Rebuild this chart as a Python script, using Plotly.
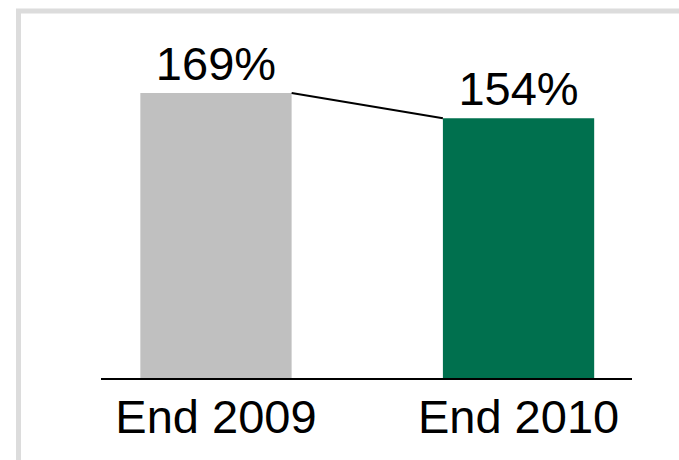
import plotly.graph_objects as go

# Chart data
periods = ["End 2009", "End 2010"]
ratios = [169, 154]
bar_colors = ["#c0c0c0", "#00704e"]

FONT = "Liberation Sans, Arial, sans-serif"

W, H = 679, 460
L, R, T, B = 101, 47, 20, 82
plot_h = H - T - B
px_per_unit = 285 / 169
y_max = plot_h / px_per_unit

fig = go.Figure()

fig.add_trace(go.Bar(
    x=[0, 1],
    y=ratios,
    width=0.5,
    marker=dict(color=bar_colors, line=dict(width=0)),
    text=[f"{v}%" for v in ratios],
    textposition="outside",
    textfont=dict(family=FONT, size=47, color="black"),
    cliponaxis=False,
    hoverinfo="skip",
))

# Connector between the tops of the two bars
fig.add_trace(go.Scatter(
    x=[0.25, 0.75],
    y=ratios,
    mode="lines",
    line=dict(color="black", width=2),
    hoverinfo="skip",
    cliponaxis=False,
))

# Light grey frame (top and left edges visible)
def to_paper_x(px):
    return (px - L) / (W - L - R)

def to_paper_y(py):
    return (H - B - py) / plot_h

fig.add_shape(
    type="rect", xref="paper", yref="paper",
    x0=to_paper_x(18.5), x1=to_paper_x(W + 20),
    y0=to_paper_y(H + 20), y1=to_paper_y(11),
    line=dict(color="#dcdcdc", width=5),
    fillcolor="rgba(0,0,0,0)",
    layer="below",
)

fig.update_layout(
    width=W, height=H,
    margin=dict(l=L, r=R, t=T, b=B),
    paper_bgcolor="white",
    plot_bgcolor="white",
    showlegend=False,
    bargap=0.5,
    xaxis=dict(
        range=[-0.38, 1.375],
        tickmode="array",
        tickvals=[0, 1],
        ticktext=periods,
        tickfont=dict(family=FONT, size=47, color="black"),
        ticklabelstandoff=-3,
        showline=True, linecolor="black", linewidth=2,
        showgrid=False, zeroline=False, ticks="",
        fixedrange=True,
    ),
    yaxis=dict(
        range=[0, y_max],
        visible=False,
        fixedrange=True,
    ),
)

fig.write_html("out.html")
